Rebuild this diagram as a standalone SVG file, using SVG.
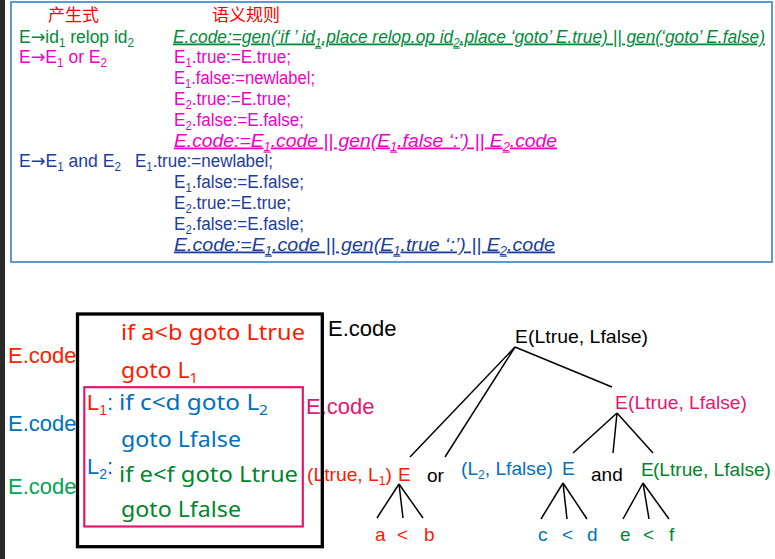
<svg xmlns="http://www.w3.org/2000/svg" width="775" height="559" viewBox="0 0 775 559">
<style>
text{font-family:"Liberation Sans",Arial,sans-serif;}
.cjk{font-family:"Noto Sans CJK SC","Liberation Sans",sans-serif;font-size:17px;fill:#ff0000;}
.t{font-size:18px;}
.ar{font-family:"DejaVu Sans",sans-serif;}
.u{font-style:italic;text-decoration:underline;}
.sb{font-size:12px;baseline-shift:-4px;}
.g{fill:#008a3a;}
.m{fill:#ee00c8;}
.b{fill:#1d3d9c;}
.code{font-family:"Noto Sans","Open Sans",sans-serif;font-size:22px;}
.lbl{font-size:22px;}
.sb2{font-size:14px;baseline-shift:-5px;}
.tr{font-size:19px;}
.tsb{font-size:12px;baseline-shift:-4px;}
.red{fill:#ff1a00;}
.blu{fill:#0070c0;}
.grn{fill:#00862d;}
.edge{stroke:#000;stroke-width:1.5;fill:none;}
</style>
<rect x="0" y="0" width="5" height="559" fill="#2a2a2a"/>
<g id="table">
<rect x="11" y="2" width="761" height="260" fill="#fff" stroke="#5b9bd5" stroke-width="2"/>
<text class="cjk" x="48" y="21">产生式</text>
<text class="cjk" x="212" y="21">语义规则</text>
<text class="t g" x="19" y="42.5" textLength="115" lengthAdjust="spacingAndGlyphs">E<tspan class="ar">→</tspan>id<tspan class="sb">1</tspan> relop id<tspan class="sb">2</tspan></text>
<text class="t g u" x="173" y="42.5" textLength="592" lengthAdjust="spacingAndGlyphs">E.code:=gen(‘if ’ id<tspan class="sb">1</tspan>.place relop.op id<tspan class="sb">2</tspan>.place ‘goto’ E.true) || gen(‘goto’  E.false)</text>
<text class="t m" x="19" y="63.3" textLength="88" lengthAdjust="spacingAndGlyphs">E<tspan class="ar">→</tspan>E<tspan class="sb">1</tspan> or E<tspan class="sb">2</tspan></text>
<text class="t m" x="174" y="63.3" textLength="117" lengthAdjust="spacingAndGlyphs">E<tspan class="sb">1</tspan>.true:=E.true;</text>
<text class="t m" x="174" y="84.1" textLength="141" lengthAdjust="spacingAndGlyphs">E<tspan class="sb">1</tspan>.false:=newlabel;</text>
<text class="t m" x="174" y="104.9" textLength="117" lengthAdjust="spacingAndGlyphs">E<tspan class="sb">2</tspan>.true:=E.true;</text>
<text class="t m" x="174" y="125.7" textLength="130" lengthAdjust="spacingAndGlyphs">E<tspan class="sb">2</tspan>.false:=E.false;</text>
<text class="t m u" x="174" y="146.5" textLength="383" lengthAdjust="spacingAndGlyphs">E.code:=E<tspan class="sb">1</tspan>.code || gen(E<tspan class="sb">1</tspan>.false ‘:’) || E<tspan class="sb">2</tspan>.code</text>
<text class="t b" x="19" y="167.3" textLength="102" lengthAdjust="spacingAndGlyphs">E<tspan class="ar">→</tspan>E<tspan class="sb">1</tspan> and E<tspan class="sb">2</tspan></text>
<text class="t b" x="135" y="167.3" textLength="138" lengthAdjust="spacingAndGlyphs">E<tspan class="sb">1</tspan>.true:=newlabel;</text>
<text class="t b" x="174" y="188.1" textLength="130" lengthAdjust="spacingAndGlyphs">E<tspan class="sb">1</tspan>.false:=E.false;</text>
<text class="t b" x="174" y="208.9" textLength="117" lengthAdjust="spacingAndGlyphs">E<tspan class="sb">2</tspan>.true:=E.true;</text>
<text class="t b" x="174" y="229.7" textLength="130" lengthAdjust="spacingAndGlyphs">E<tspan class="sb">2</tspan>.false:=E.fasle;</text>
<text class="t b u" x="174" y="250.5" textLength="381" lengthAdjust="spacingAndGlyphs">E.code:=E<tspan class="sb">1</tspan>.code ||  gen(E<tspan class="sb">1</tspan>.true ‘:’) || E<tspan class="sb">2</tspan>.code</text>
</g>
<g id="code-labels">
<text class="lbl" x="8" y="363" fill="#ff1a00">E.code</text>
<text class="lbl" x="8" y="431" fill="#0070c0">E.code</text>
<text class="lbl" x="8" y="494" fill="#00a550">E.code</text>
<text class="lbl" x="328" y="336" fill="#000">E.code</text>
<text class="lbl" x="306" y="414" fill="#e3176f">E.code</text>
</g>
<g id="code">
<text class="code red" x="121" y="340" textLength="184" lengthAdjust="spacingAndGlyphs">if a&lt;b goto Ltrue</text>
<text class="code red" x="121" y="378" textLength="77" lengthAdjust="spacingAndGlyphs">goto L<tspan class="sb2">1</tspan></text>
<text class="lbl" x="87" y="410"><tspan fill="#ff1a00">L</tspan><tspan class="sb2" fill="#ff1a00">1</tspan><tspan fill="#0070c0">:</tspan></text>
<text class="code blu" x="119" y="410" textLength="149" lengthAdjust="spacingAndGlyphs">if c&lt;d goto L<tspan class="sb2">2</tspan></text>
<text class="code blu" x="121" y="447" textLength="120" lengthAdjust="spacingAndGlyphs">goto Lfalse</text>
<text class="lbl blu" x="87" y="474">L<tspan class="sb2">2</tspan>:</text>
<text class="code grn" x="119" y="482" textLength="179" lengthAdjust="spacingAndGlyphs">if e&lt;f goto Ltrue</text>
<text class="code grn" x="121" y="517" textLength="120" lengthAdjust="spacingAndGlyphs">goto Lfalse</text>
</g>
<g id="tree-nodes">
<text class="tr" x="515" y="343" fill="#000">E</text>
<text class="tr" x="528" y="343" fill="#000" textLength="120" lengthAdjust="spacingAndGlyphs">(Ltrue, Lfalse)</text>
<text class="tr" x="615" y="409" fill="#e3176f">E</text>
<text class="tr" x="628" y="409" fill="#e3176f" textLength="119" lengthAdjust="spacingAndGlyphs">(Ltrue, Lfalse)</text>
<text class="tr" x="307" y="481" fill="#ff1a00" font-size="17" textLength="85" lengthAdjust="spacingAndGlyphs">(Ltrue, L<tspan class="tsb">1</tspan>)</text>
<text class="tr" x="398" y="481" fill="#ff1a00">E</text>
<text class="tr" x="427" y="482" fill="#000">or</text>
<text class="tr" x="461" y="475" fill="#0070c0" textLength="92" lengthAdjust="spacingAndGlyphs">(L<tspan class="tsb">2</tspan>, Lfalse)</text>
<text class="tr" x="562" y="475" fill="#0070c0">E</text>
<text class="tr" x="591" y="481" fill="#000">and</text>
<text class="tr" x="641" y="476" fill="#00862d">E</text>
<text class="tr" x="653" y="476" fill="#00862d" textLength="118" lengthAdjust="spacingAndGlyphs">(Ltrue, Lfalse)</text>
<text class="tr" x="375" y="541" fill="#ff1a00" font-size="18">a</text>
<text class="tr" x="397" y="541" fill="#ff1a00" font-size="18">&lt;</text>
<text class="tr" x="424" y="541" fill="#ff1a00" font-size="18">b</text>
<text class="tr" x="538" y="541" fill="#0070c0" font-size="18">c</text>
<text class="tr" x="562" y="541" fill="#0070c0" font-size="18">&lt;</text>
<text class="tr" x="587" y="541" fill="#0070c0" font-size="18">d</text>
<text class="tr" x="620" y="541" fill="#00862d" font-size="18">e</text>
<text class="tr" x="643" y="541" fill="#00862d" font-size="18">&lt;</text>
<text class="tr" x="669" y="541" fill="#00862d" font-size="18">f</text>
</g>
<g id="connectors" class="edge">
<line x1="515" y1="347" x2="410" y2="457"/>
<line x1="515" y1="347" x2="445" y2="457"/>
<line x1="515" y1="347" x2="612" y2="387"/>
<line x1="617" y1="413" x2="573" y2="453"/>
<line x1="617" y1="413" x2="613" y2="453"/>
<line x1="617" y1="413" x2="653" y2="453"/>
<line x1="399" y1="484" x2="377" y2="518"/>
<line x1="399" y1="484" x2="403" y2="518"/>
<line x1="399" y1="484" x2="423" y2="518"/>
<line x1="563" y1="483" x2="541" y2="519"/>
<line x1="563" y1="483" x2="567" y2="519"/>
<line x1="563" y1="483" x2="587" y2="519"/>
<line x1="643" y1="483" x2="623" y2="519"/>
<line x1="643" y1="483" x2="649" y2="519"/>
<line x1="643" y1="483" x2="669" y2="519"/>
</g>
<g id="boxes">
<rect x="84.3" y="387.2" width="218.5" height="139.3" fill="none" stroke="#e3176f" stroke-width="2.2"/>
<rect x="77.5" y="314" width="244.8" height="232.7" fill="none" stroke="#000" stroke-width="3.3"/>
</g>
</svg>
